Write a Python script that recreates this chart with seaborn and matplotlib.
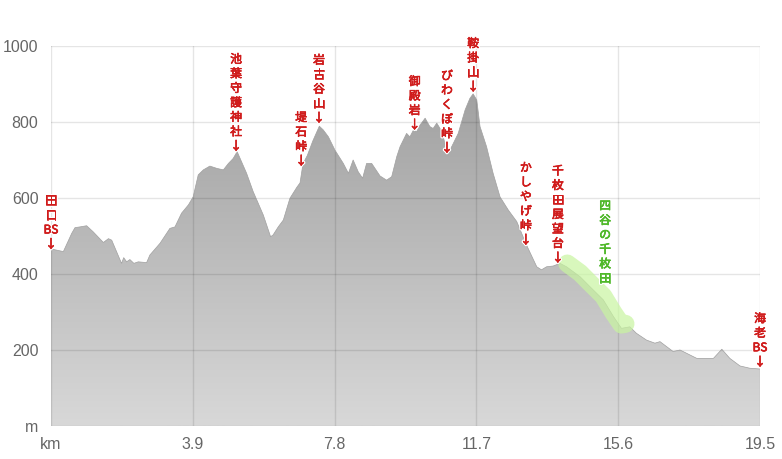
import matplotlib
matplotlib.use("Agg")
import matplotlib.pyplot as plt
import matplotlib.patheffects as pe
from matplotlib.colors import LinearSegmentedColormap
import numpy as np
import seaborn as sns

# elevation profile (km, m)
km = [0, 0.34, 0.57, 0.66, 0.8, 0.98, 1.16, 1.44, 1.58, 1.67, 1.94, 2.0, 2.08,
      2.17, 2.28, 2.40, 2.63, 2.72, 3.0, 3.27, 3.41, 3.59, 3.78, 3.91, 4.05,
      4.19, 4.37, 4.56, 4.74, 4.88, 5.01, 5.12, 5.38, 5.56, 5.84, 6.04, 6.11,
      6.25, 6.39, 6.57, 6.76, 6.85, 6.93, 7.05, 7.2, 7.38, 7.49, 7.63, 7.81,
      8.04, 8.18, 8.31, 8.45, 8.57, 8.68, 8.82, 9.05, 9.23, 9.37, 9.51, 9.6,
      9.78, 9.87, 9.97, 10.06, 10.15, 10.29, 10.42, 10.51, 10.61, 10.7, 10.79,
      10.91, 11.02, 11.2, 11.39, 11.52, 11.61, 11.71, 11.8, 11.98, 12.16,
      12.35, 12.58, 12.81, 13.08, 13.36, 13.49, 13.63, 13.81, 14.0, 14.18,
      14.55, 14.82, 15.19, 15.47, 15.69, 15.92, 16.1, 16.38, 16.61, 16.75,
      17.11, 17.3, 17.76, 18.22, 18.45, 18.67, 18.95, 19.22, 19.5]
elev = [466, 459, 507, 522, 524, 527, 511, 483, 493, 489, 428, 443, 432,
        438, 428, 432, 430, 450, 481, 520, 524, 560, 582, 603, 661,
        674, 684, 678, 674, 691, 704, 722, 665, 617, 555, 498, 503,
        524, 542, 599, 628, 640, 690, 712, 750, 789, 779, 761, 726,
        691, 665, 700, 669, 652, 691, 691, 658, 647, 656, 709, 735,
        770, 761, 779, 775, 792, 810, 788, 783, 797, 783, 761,
        713, 735, 770, 832, 862, 874, 858, 788, 735, 665,
        603, 568, 538, 476, 419, 411, 419, 421, 428, 419,
        393, 367, 332, 288, 257, 261, 244, 226, 218, 222,
        196, 200, 178, 178, 202, 178, 158, 152, 150]

# place labels: name, km, elevation of arrow tip
labels = ["田口BS", "池葉守護神社", "堤石峠", "岩古谷山", "御殿岩",
          "びわくぼ峠", "鞍掛山", "かしやげ峠", "千枚田展望台", "海老BS"]
label_km = [0, 5.09, 6.88, 7.37, 10.0, 10.89, 11.61, 13.06, 13.94, 19.5]
label_elev = [468, 726, 687, 800, 782, 721, 882, 479, 432, 158]

# highlighted section
zone_name = "四谷の千枚田"
zone_start, zone_end = 14.2, 15.8
zone_label_km, zone_label_elev = 15.24, 371

x_ticks = [0, 3.9, 7.8, 11.7, 15.6, 19.5]
x_ticklabels = ["km", "3.9", "7.8", "11.7", "15.6", "19.5"]
y_ticks = [0, 200, 400, 600, 800, 1000]
y_ticklabels = ["m", "200", "400", "600", "800", "1000"]


def split_chars(s):
    out = []
    i = 0
    while i < len(s):
        if s[i:i + 2] == "BS":
            out.append("BS")
            i += 2
        else:
            out.append(s[i])
            i += 1
    return out


def text_effects(color):
    return [pe.withStroke(linewidth=2.2, foreground="white"),
            pe.Stroke(linewidth=0.45, foreground=color), pe.Normal()]


def plot():
    sns.set_style("white")
    plt.rcParams["font.family"] = ["Noto Sans CJK JP", "DejaVu Sans"]

    fig = plt.figure(figsize=(7.82, 4.59), dpi=100)
    ax = fig.add_axes([51 / 782, 33 / 459, 709 / 782, 380 / 459])

    sns.lineplot(x=km, y=elev, ax=ax, color="#a0a0a0", linewidth=0.5, zorder=3)
    poly = ax.fill_between(km, elev, 0, color="none", zorder=2)

    cmap = LinearSegmentedColormap.from_list("g", ["#d8d8d8", "#9a9a9a"])
    grad = np.linspace(0, 1, 256).reshape(-1, 1)
    im = ax.imshow(grad, extent=[0, 19.5, 0, 1000], origin="lower",
                   aspect="auto", cmap=cmap, zorder=2)
    im.set_clip_path(poly.get_paths()[0], transform=ax.transData)

    # highlight band
    zx = np.array([zone_start] + [k for k in km if zone_start < k < zone_end] + [zone_end])
    zy = np.interp(zx, km, elev)
    ax.plot(zx, zy + 10, color="#c8f5a0", alpha=0.7, linewidth=13,
            solid_capstyle="round", solid_joinstyle="round", zorder=4)

    red = "#d01c1c"
    for name, x, y in zip(labels, label_km, label_elev):
        txt = "\n".join(split_chars(name) + ["↓"])
        ax.annotate(txt, xy=(x, y), xytext=(0, -2), textcoords="offset points",
                    ha="center", va="bottom", color=red, fontsize=8.5,
                    linespacing=1.15, zorder=6,
                    path_effects=text_effects(red), annotation_clip=False)

    green = "#4fb82a"
    ax.annotate("\n".join(split_chars(zone_name)), xy=(zone_label_km, zone_label_elev),
                xytext=(0, 0), textcoords="offset points", ha="center", va="bottom",
                color=green, fontsize=8.5, linespacing=1.15,
                zorder=6, path_effects=text_effects(green))

    ax.set_xlim(0, 19.5)
    ax.set_ylim(0, 1000)
    ax.set_xticks(x_ticks)
    ax.set_xticklabels(x_ticklabels)
    ax.set_yticks(y_ticks)
    ax.set_yticklabels(y_ticklabels)
    ax.tick_params(length=0, labelsize=11.5, labelcolor="#666666")
    ax.tick_params(axis="x", pad=8)
    ax.tick_params(axis="y", pad=9)
    for lab in ax.get_xticklabels() + ax.get_yticklabels():
        lab.set_family(["Liberation Sans", "DejaVu Sans"])
    ax.grid(True, color="black", alpha=0.1, linewidth=1)
    ax.set_axisbelow(False)
    for s in ax.spines.values():
        s.set_visible(False)
    ax.set_xlabel("")
    ax.set_ylabel("")

    plt.savefig("out.png", dpi=100)


if __name__ == "__main__":
    plot()
